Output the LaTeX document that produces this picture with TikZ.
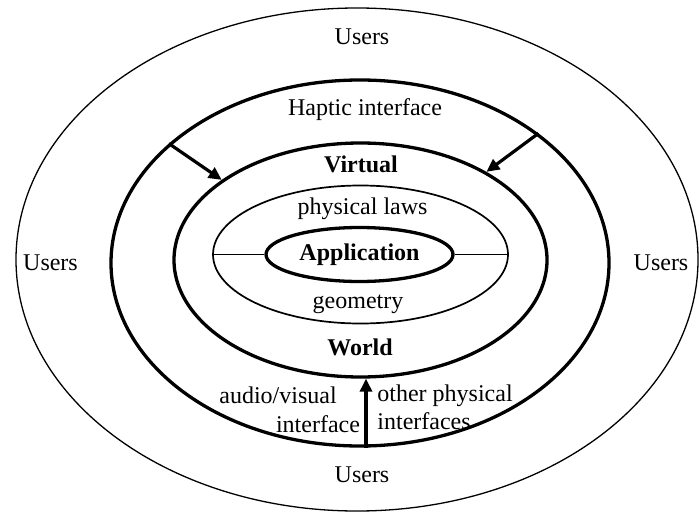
\documentclass[tikz,border=0pt]{standalone}
\usepackage{fontspec}
\setmainfont{Liberation Serif}
\usetikzlibrary{arrows.meta,shapes.geometric}
\tikzset{
  figrim/.style={ellipse,draw=black,line width=0.65pt,inner sep=0pt},
  figring/.style={ellipse,draw=black,line width=1.65pt,inner sep=0pt},
  figcore/.style={ellipse,draw=black,line width=0.85pt,inner sep=0pt},
  figtext/.style={font=\fontsize{12}{14}\selectfont,text=black,inner sep=0pt},
  figbold/.style={font=\fontsize{12}{14}\selectfont\bfseries,text=black,inner sep=0pt},
  figflow/.style={-{Triangle[length=6.5pt,width=6pt]},draw=black,line width=1.6pt},
  figspoke/.style={draw=black,line width=0.85pt},
}

\begin{document}
\begin{tikzpicture}[x=0.5pt,y=-0.5pt]
\useasboundingbox (0,0) rectangle (699,518);

% Rings, outside in.
\node[figrim,minimum width=341pt,minimum height=251.5pt] (users) at (357,259.5) {};
\node[figring,minimum width=249pt,minimum height=183pt] (hapticring) at (360,263) {};
\node[figring,minimum width=186.5pt,minimum height=117pt] (worldring) at (360.5,260) {};
\node[figcore,minimum width=147.5pt,minimum height=69pt] (lawsring) at (360.5,254.5) {};
\node[figring,figbold,minimum width=93.5pt,minimum height=27pt] (app) at (359.5,254.5) {Application};
\draw[figspoke] (lawsring.west) -- (app.west);
\draw[figspoke] (app.east) -- (lawsring.east);

% Labels.
\node[figtext] (usersN) at (362,37) {Users};
\node[figtext] (usersW) at (50.5,263) {Users};
\node[figtext] (usersE) at (661,263) {Users};
\node[figtext] (usersS) at (362,475) {Users};
\node[figtext] (haptic) at (365,110) {Haptic interface};
\node[figbold] (virtual) at (361,164) {Virtual};
\node[figtext] (laws) at (362.5,209) {physical laws};
\node[figtext] (geometry) at (358,304) {geometry};
\node[figbold] (world) at (360,347) {World};
\node[figtext] (audio) at (278,395) {audio/visual};
\node[figtext] (audioif) at (318,424) {interface};
\node[figtext,anchor=west,align=left] (other) at (377,407) {other physical\\interfaces};

% Interfaces into the virtual world.
\coordinate (axis) at (366,0);
\draw[figflow] (hapticring.148) -- (worldring.150);
\draw[figflow] (hapticring.36) -- (worldring.35);
\draw[figflow] (hapticring.south -| axis) -- (worldring.south -| axis);
\end{tikzpicture}
\end{document}
